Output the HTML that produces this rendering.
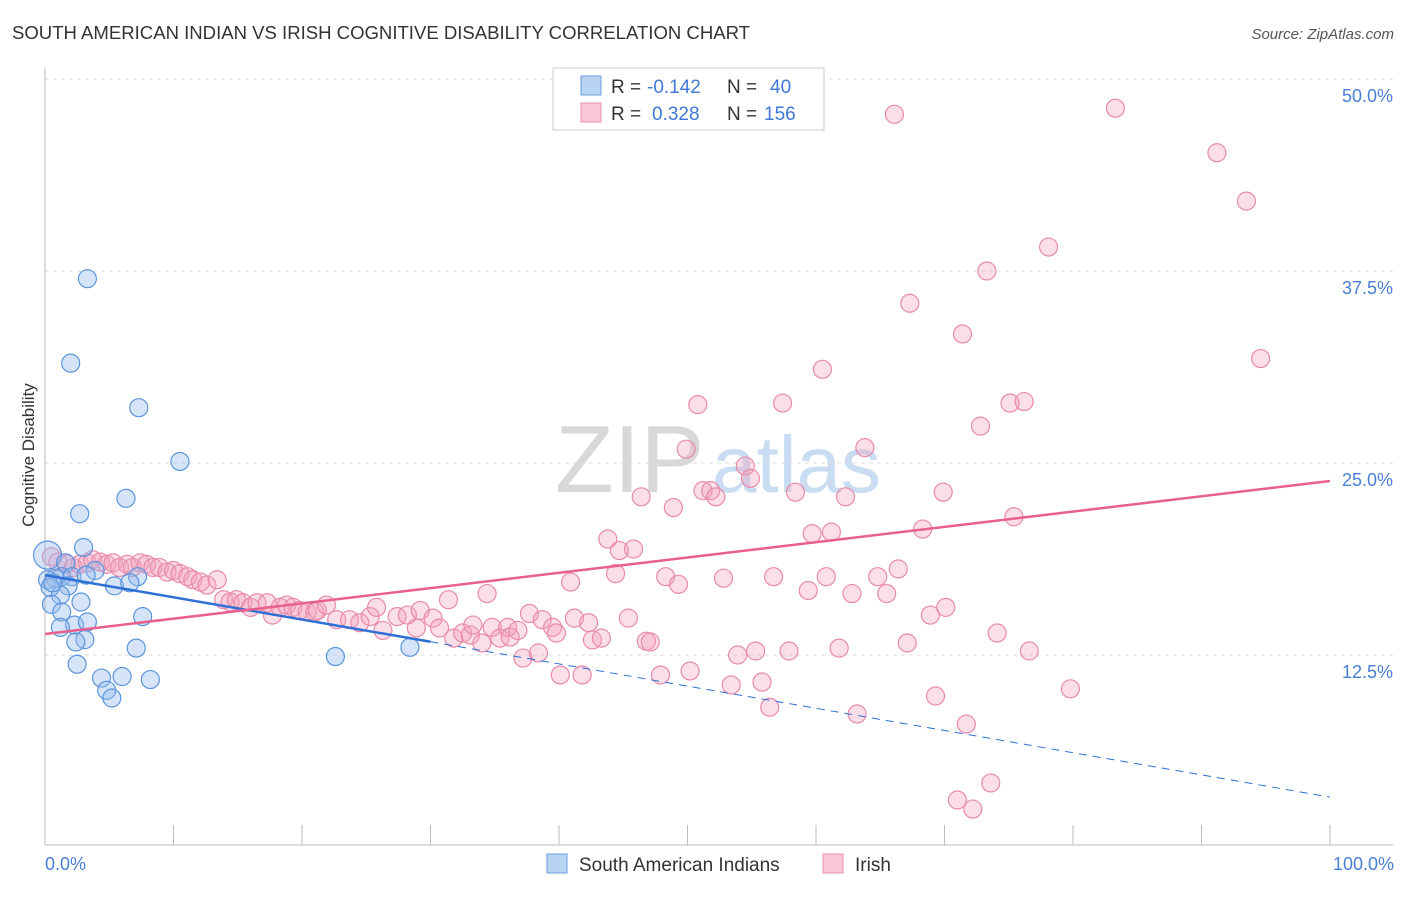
<!DOCTYPE html>
<html><head><meta charset="utf-8"><style>
body{margin:0;background:#fff;font-family:"Liberation Sans",sans-serif;}
svg text{font-family:"Liberation Sans",sans-serif;}
</style></head><body>
<svg id="chart" width="1406" height="892">
<text x="12" y="39" font-size="18" fill="#333" textLength="738" lengthAdjust="spacingAndGlyphs">SOUTH AMERICAN INDIAN VS IRISH COGNITIVE DISABILITY CORRELATION CHART</text>
<text x="1394" y="39" font-size="15" fill="#555" font-style="italic" text-anchor="end">Source: ZipAtlas.com</text>
<text x="555" y="492" font-size="96" fill="#d8d8d8" font-family="Liberation Serif">ZIP</text>
<text x="712" y="492" font-size="80" fill="#c9dcf2">atlas</text>
<g id="grid"></g>
<g id="axes"></g>
<g id="pts"></g>
<g id="lines"></g>
<text transform="translate(34,455) rotate(-90)" font-size="17" fill="#333" text-anchor="middle">Cognitive Disability</text>
<text x="45" y="870" font-size="18" fill="#4a7fd6">0.0%</text>
<text x="1394" y="870" font-size="18" fill="#4a7fd6" text-anchor="end">100.0%</text>
<g>
<rect x="553" y="68" width="271" height="62" fill="#fff" stroke="#ccc"/>
<rect x="581" y="76" width="20" height="19" fill="#b9d3f3" stroke="#6a9ee0"/>
<rect x="581" y="103" width="20" height="19" fill="#f9c7d7" stroke="#ea8fae"/>
<text x="611" y="93" font-size="19" fill="#333">R =</text><text x="647" y="93" font-size="19" fill="#3f78d6">-0.142</text>
<text x="727" y="93" font-size="19" fill="#333">N =</text><text x="770" y="93" font-size="19" fill="#3f78d6">40</text>
<text x="611" y="120" font-size="19" fill="#333">R =</text><text x="652" y="120" font-size="19" fill="#3f78d6">0.328</text>
<text x="727" y="120" font-size="19" fill="#333">N =</text><text x="764" y="120" font-size="19" fill="#3f78d6">156</text>
</g>
<g>
<rect x="547" y="854" width="20" height="19" fill="#b9d3f3" stroke="#6a9ee0"/>
<text x="579" y="871" font-size="19" fill="#333">South American Indians</text>
<rect x="823" y="854" width="20" height="19" fill="#f9c7d7" stroke="#ea8fae"/>
<text x="855" y="871" font-size="19" fill="#333">Irish</text>
</g>
</svg>
<script>
const yTicks=[12.5,25,37.5,50];
const yTickLabels=["12.5%","25.0%","37.5%","50.0%"];
const xTicks=[0,10,20,30,40,50,60,70,80,90,100];
const blueX=[3.3,2.0,7.3,10.5,6.3,2.7,3.0,0.2,1.6,3.9,1.3,2.1,0.8,0.2,7.2,5.4,6.6,1.8,0.4,1.2,2.8,0.5,1.3,7.6,2.3,3.3,1.2,3.1,2.4,7.1,22.6,28.4,2.5,4.4,6.0,8.2,4.8,5.2,3.2,0.6];
const blueY=[37.0,31.5,28.6,25.1,22.7,21.7,19.5,19.0,18.5,18.0,17.6,17.6,17.5,17.4,17.6,17.0,17.2,17.0,16.9,16.4,15.95,15.8,15.3,15.0,14.45,14.65,14.3,13.5,13.35,12.95,12.4,13.0,11.9,11.0,11.1,10.9,10.2,9.7,17.7,17.2];
const pinkX=[0.5,1.0,1.7,2.2,2.7,3.3,3.7,4.3,4.8,5.3,5.8,6.4,6.8,7.4,7.9,8.4,8.9,9.5,10.0,10.5,11.1,11.5,12.1,12.6,13.4,13.9,14.4,14.9,15.4,16.0,16.5,17.3,17.7,18.3,18.8,19.3,19.8,20.4,21.0,21.2,21.9,22.7,23.7,24.5,25.3,25.8,26.3,27.4,28.2,28.9,29.2,30.2,30.7,31.4,31.8,32.5,33.1,33.3,34.0,34.4,34.8,35.4,36.0,36.2,36.8,37.2,37.7,38.4,38.7,39.5,39.8,40.1,40.9,41.2,41.8,42.3,42.6,
66.1,83.3,91.2,93.5,78.1,73.3,67.3,71.4,94.6,60.5,50.8,57.4,75.1,76.2,72.8,49.9,63.8,54.5,54.9,46.4,51.2,51.8,52.2,58.4,62.3,69.9,48.9,75.4,68.3,59.7,61.2,43.8,44.7,45.8,44.4,48.3,49.3,52.8,56.7,60.8,64.8,66.4,59.4,62.8,65.5,70.1,68.9,45.4,46.8,47.1,74.1,67.1,61.8,47.9,50.2,53.9,55.3,57.9,53.4,55.8,56.4,63.2,69.3,71.7,76.6,79.8,73.6,71.0,72.2,43.3];
const pinkY=[18.9,18.55,18.4,18.2,18.4,18.5,18.7,18.55,18.4,18.5,18.2,18.4,18.2,18.5,18.4,18.2,18.2,17.9,18.0,17.8,17.6,17.4,17.25,17.05,17.4,16.1,15.95,16.1,15.9,15.6,15.9,15.9,15.1,15.6,15.75,15.6,15.4,15.3,15.3,15.4,15.75,14.8,14.8,14.6,15.0,15.6,14.1,15.0,15.1,14.26,15.4,14.9,14.26,16.1,13.6,13.93,13.8,14.45,13.28,16.5,14.3,13.6,14.3,13.67,14.1,12.3,15.2,12.63,14.8,14.3,13.93,11.2,17.25,14.9,11.2,14.6,13.48,
47.7,48.1,45.2,42.05,39.06,37.5,35.4,33.4,31.8,31.1,28.8,28.9,28.9,29.0,27.4,25.9,26.0,24.8,24.0,22.8,23.2,23.2,22.8,23.1,22.8,23.1,22.1,21.5,20.7,20.4,20.5,20.05,19.3,19.4,17.8,17.6,17.1,17.5,17.6,17.6,17.6,18.1,16.7,16.5,16.5,15.6,15.1,14.9,13.4,13.35,13.93,13.28,12.95,11.2,11.46,12.5,12.76,12.76,10.55,10.74,9.1,8.66,9.83,8.0,12.76,10.3,4.17,3.06,2.47,13.6];
const blueTrend=[17.7,3.25];
const pinkTrend=[13.87,23.83];
const blueSolidEnd=30;
const X=v=>45+v*12.85;
const Y=v=>463-(v-25)*15.36;
const NS="http://www.w3.org/2000/svg";
function mk(tag,attrs,parent){const e=document.createElementNS(NS,tag);for(const k in attrs)e.setAttribute(k,attrs[k]);document.getElementById(parent).appendChild(e);return e;}
yTicks.forEach((t,i)=>{
 const g=mk('line',{x1:45,x2:1393,y1:Y(t),y2:Y(t),stroke:'#ddd','stroke-dasharray':'4,4'},'grid');
 
 
 const l=mk('text',{x:1393,y:Y(t)+23,'font-size':18,fill:'#4a7fd6','text-anchor':'end'},'grid');
 l.textContent=yTickLabels[i];
 
 
});
const ya=mk('line',{x1:45,x2:45,y1:68,y2:845,stroke:'#bbb'},'axes');


const xa=mk('line',{x1:45,x2:1393,y1:845,y2:845,stroke:'#bbb'},'axes');


xTicks.forEach(t=>{
 const k=mk('line',{x1:X(t),x2:X(t),y1:825,y2:845,stroke:'#bbb'},'axes');
 
 
});
pinkX.forEach((x,i)=>{
 const c=mk('circle',{cx:X(x),cy:Y(pinkY[i]),r:9,fill:'rgba(244,160,190,0.35)',stroke:'#e98aab','stroke-width':1.2},'pts');
 
 
});
blueX.forEach((x,i)=>{
 const c=mk('circle',{cx:X(x),cy:Y(blueY[i]),r:i===7?14:9,fill:'rgba(150,188,238,0.4)',stroke:'#5b94dc','stroke-width':1.2},'pts');
 
 
});
const by=v=>blueTrend[0]+(blueTrend[1]-blueTrend[0])*v/100;
const b1=mk('line',{x1:X(0),y1:Y(by(0)),x2:X(blueSolidEnd),y2:Y(by(blueSolidEnd)),stroke:'#2f6fd6','stroke-width':2.5},'lines');


const b2=mk('line',{x1:X(blueSolidEnd),y1:Y(by(blueSolidEnd)),x2:X(100),y2:Y(by(100)),stroke:'#2f6fd6','stroke-width':1,'stroke-dasharray':'8,6'},'lines');


const p1=mk('line',{x1:X(0),y1:Y(pinkTrend[0]),x2:X(100),y2:Y(pinkTrend[1]),stroke:'#e8608e','stroke-width':2.5},'lines');


</script>
</body></html>
